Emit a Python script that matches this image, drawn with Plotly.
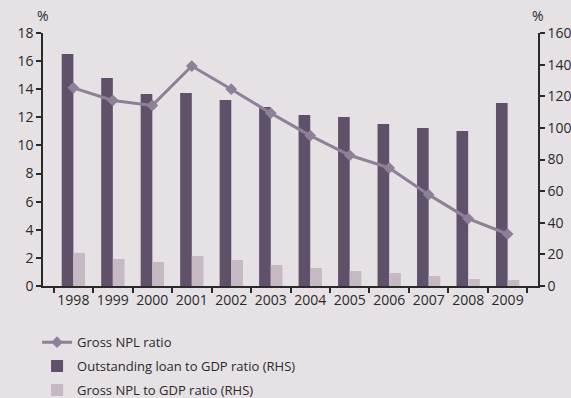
import plotly.graph_objects as go

years = ["1998", "1999", "2000", "2001", "2002", "2003", "2004", "2005",
         "2006", "2007", "2008", "2009"]
gross_npl_ratio = [14.1, 13.2, 12.85, 15.65, 14.0, 12.3, 10.7, 9.3, 8.4, 6.5, 4.8, 3.7]
loan_to_gdp = [146.7, 131.5, 121.4, 122.1, 117.6, 113.2, 108.1, 106.9, 102.4, 99.9, 98.0, 115.7]
npl_to_gdp = [20.9, 17.1, 15.2, 19.0, 16.4, 13.3, 11.4, 9.5, 8.2, 6.3, 4.4, 3.8]

left_ticks = [0, 2, 4, 6, 8, 10, 12, 14, 16, 18]
right_ticks = [0, 20, 40, 60, 80, 100, 120, 140, 160]

BG = "#e6e1e5"
DARK = "#5e5169"
LIGHT = "#c5b9c4"
LINE = "#8e8197"
TXT = "#2a2a2a"
FONT = "Open Sans"

fig = go.Figure()
fig.add_trace(go.Bar(x=years, y=loan_to_gdp, name="Outstanding loan to GDP ratio (RHS)",
                     marker=dict(color=DARK, line=dict(width=0)), yaxis="y",
                     legendrank=2, legendgroup="b"))
fig.add_trace(go.Bar(x=years, y=npl_to_gdp, name="Gross NPL to GDP ratio (RHS)",
                     marker=dict(color=LIGHT, line=dict(width=0)), yaxis="y",
                     legendrank=3, legendgroup="c"))
fig.add_trace(go.Scatter(x=years, y=gross_npl_ratio, name="Gross NPL ratio",
                         mode="lines+markers", yaxis="y2",
                         line=dict(color=LINE, width=3),
                         marker=dict(symbol="diamond", size=9, color=LINE),
                         legendrank=1, legendgroup="a"))

fig.update_layout(
    width=571, height=398,
    margin=dict(l=43, r=33, t=33, b=112, autoexpand=False),
    paper_bgcolor=BG, plot_bgcolor=BG,
    font=dict(family=FONT, size=14, color=TXT),
    barmode="group", bargap=0.41, bargroupgap=0,
    showlegend=True,
    legend=dict(x=-0.012, y=-0.163, xanchor="left", yanchor="top",
                bgcolor="rgba(0,0,0,0)",
                font=dict(size=13, color=TXT), traceorder="grouped",
                tracegroupgap=4, itemwidth=30),
    xaxis=dict(type="category", showgrid=False, showline=True, linecolor=TXT,
               linewidth=1.5, ticks="outside", tickson="boundaries", ticklen=5,
               tickcolor=TXT, tickwidth=1.5, tickfont=dict(size=14), tickangle=0,
               zeroline=False, automargin=False),
    yaxis=dict(side="right", range=[0, 160], tickvals=right_ticks, showgrid=False,
               showline=True, linecolor=TXT, linewidth=1.5, ticks="outside",
               ticklen=5, tickcolor=TXT, tickwidth=1.5, zeroline=False, automargin=False),
    yaxis2=dict(side="left", overlaying="y", range=[0, 18], tickvals=left_ticks,
                showgrid=False, showline=True, linecolor=TXT, linewidth=1.5,
                ticks="outside", ticklen=5, tickcolor=TXT, tickwidth=1.5,
                zeroline=False, automargin=False),
    annotations=[
        dict(text="%", xref="paper", yref="paper", x=0, y=1, xanchor="center",
             yanchor="bottom", yshift=6, showarrow=False, font=dict(size=14, color=TXT)),
        dict(text="%", xref="paper", yref="paper", x=1, y=1, xanchor="center",
             yanchor="bottom", yshift=6, showarrow=False, font=dict(size=14, color=TXT)),
    ],
)

fig.write_html(
    "out.html",
    config={"displayModeBar": False},
    post_script="document.body.style.margin='0';document.body.style.overflow='hidden';",
)
